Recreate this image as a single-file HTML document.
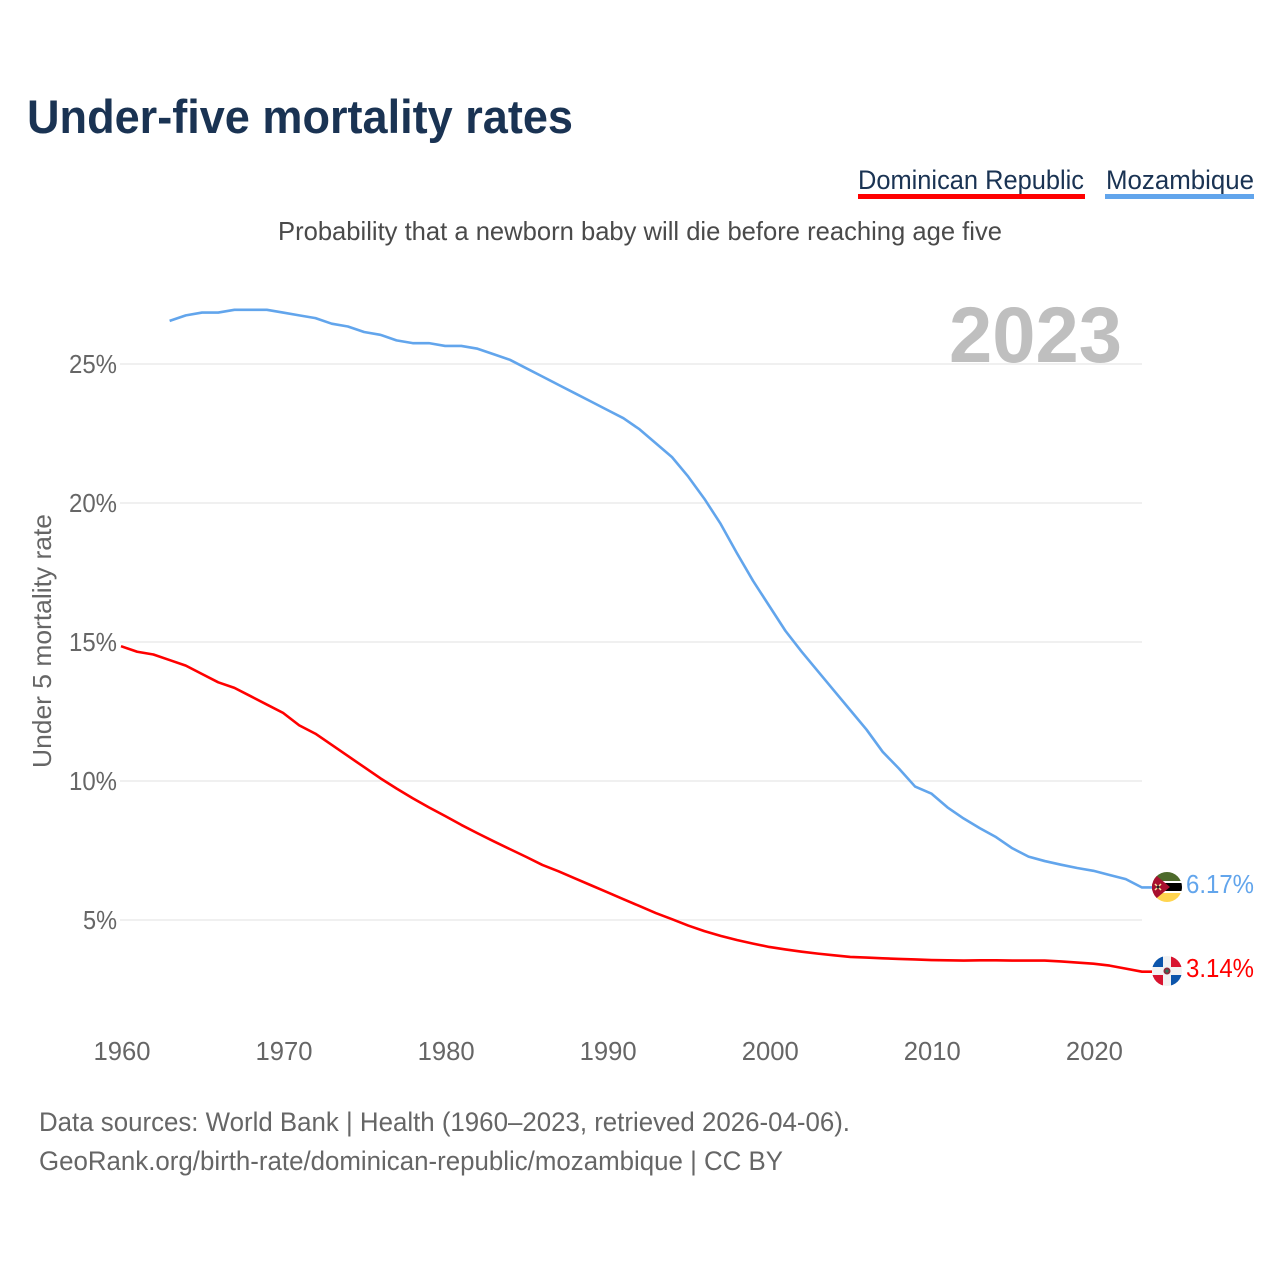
<!DOCTYPE html>
<html lang="en">
<head>
<meta charset="utf-8">
<title>Under-five mortality rates</title>
<style>
html,body{margin:0;padding:0;background:#fff;}
svg{display:block;font-family:"Liberation Sans",sans-serif;}
</style>
</head>
<body>
<svg id="chart" xmlns="http://www.w3.org/2000/svg" width="1280" height="1280" viewBox="0 0 1280 1280">
  <defs>
    <clipPath id="moz-clip"><circle cx="1167" cy="887" r="15"/></clipPath>
    <clipPath id="dom-clip"><circle cx="1167" cy="971" r="15"/></clipPath>
  </defs>
  <rect width="1280" height="1280" fill="#fff"/>
  <text x="27" y="133" font-size="47" font-weight="700" fill="#1a3353" textLength="546" lengthAdjust="spacingAndGlyphs">Under-five mortality rates</text>
  <g>
    <text x="858" y="189" font-size="27" fill="#1a3353" textLength="226" lengthAdjust="spacingAndGlyphs">Dominican Republic</text>
    <rect x="858" y="194" width="227" height="5" fill="#ff0000"/>
  </g>
  <g>
    <text x="1106" y="189" font-size="27" fill="#1a3353" textLength="148" lengthAdjust="spacingAndGlyphs">Mozambique</text>
    <rect x="1105" y="194" width="149" height="5" fill="#62a5ec"/>
  </g>
  <text x="278" y="240" font-size="26" fill="#4a4a4a" textLength="724" lengthAdjust="spacingAndGlyphs">Probability that a newborn baby will die before reaching age five</text>
  <text transform="translate(51,768) rotate(-90)" font-size="26" fill="#666" textLength="254" lengthAdjust="spacingAndGlyphs">Under 5 mortality rate</text>
  <g id="y-axis"></g>
  <g id="x-axis"></g>
  <text x="949" y="362" font-size="79" font-weight="700" fill="#bfbfbf" textLength="173" lengthAdjust="spacingAndGlyphs">2023</text>
  <g id="series"></g>
  <g clip-path="url(#moz-clip)">
    <rect x="1152" y="872" width="30" height="30" fill="#fff"/>
    <rect x="1152" y="872" width="30" height="9" fill="#4d6a2b"/>
    <rect x="1152" y="883" width="30" height="8" fill="#000"/>
    <rect x="1152" y="893" width="30" height="9" fill="#ffd54f"/>
    <polygon points="1152,872 1170,887 1152,902" fill="#a8102f"/>
    <path d="M1155 884l6 6M1161 884l-6 6" stroke="#f5e6a0" stroke-width="1.5"/>
    <circle cx="1158" cy="887" r="1.5" fill="#222"/>
  </g>
  <g clip-path="url(#dom-clip)">
    <rect x="1152" y="956" width="30" height="30" fill="#f2f2f2"/>
    <rect x="1152" y="956" width="11" height="11" fill="#0c55ab"/>
    <rect x="1171" y="956" width="11" height="11" fill="#d8142f"/>
    <rect x="1152" y="975" width="11" height="11" fill="#d8142f"/>
    <rect x="1171" y="975" width="11" height="11" fill="#0c55ab"/>
    <circle cx="1167" cy="971" r="3.5" fill="#8c2a3a"/>
    <circle cx="1167" cy="971" r="1.6" fill="#2a7a5a"/>
  </g>
  <text x="1186" y="893" font-size="26" fill="#62a5ec" textLength="68" lengthAdjust="spacingAndGlyphs">6.17%</text>
  <text x="1186" y="977" font-size="26" fill="#ff0000" textLength="68" lengthAdjust="spacingAndGlyphs">3.14%</text>
  <text x="39" y="1131" font-size="27" fill="#666" textLength="811" lengthAdjust="spacingAndGlyphs">Data sources: World Bank | Health (1960–2023, retrieved 2026-04-06).</text>
  <text x="39" y="1170" font-size="27" fill="#666" textLength="744" lengthAdjust="spacingAndGlyphs">GeoRank.org/birth-rate/dominican-republic/mozambique | CC BY</text>
</svg>
<script>
var domStartYear = 1960;
var mozStartYear = 1963;
var xTickYears = [1960, 1970, 1980, 1990, 2000, 2010, 2020];
var yTickValues = [5, 10, 15, 20, 25];
var dominicanValues = [14.85, 14.65, 14.55, 14.35, 14.15, 13.85, 13.55, 13.35, 13.05, 12.75,
  12.45, 12.0, 11.7, 11.3, 10.9, 10.5, 10.1, 9.73, 9.38, 9.05,
  8.74, 8.42, 8.12, 7.83, 7.55, 7.27, 6.98, 6.75, 6.5, 6.25,
  6.0, 5.75, 5.5, 5.25, 5.03, 4.8, 4.6, 4.43, 4.28, 4.15,
  4.03, 3.94, 3.86, 3.79, 3.73, 3.67, 3.65, 3.62, 3.6, 3.58,
  3.56, 3.55, 3.54, 3.55, 3.55, 3.54, 3.54, 3.54, 3.51, 3.47,
  3.43, 3.36, 3.25, 3.14];
var mozambiqueValues = [26.55, 26.75, 26.85, 26.85, 26.95, 26.95, 26.95, 26.85, 26.75, 26.65,
  26.45, 26.35, 26.15, 26.05, 25.85, 25.75, 25.75, 25.65, 25.65, 25.55,
  25.35, 25.15, 24.85, 24.55, 24.25, 23.95, 23.65, 23.35, 23.05, 22.65,
  22.15, 21.65, 20.95, 20.15, 19.25, 18.2, 17.2, 16.3, 15.4, 14.65,
  13.95, 13.25, 12.55, 11.85, 11.05, 10.45, 9.8, 9.55, 9.05, 8.65,
  8.3, 7.98, 7.58, 7.28, 7.12, 6.99, 6.87, 6.77, 6.62, 6.47, 6.17];

var NS = 'http://www.w3.org/2000/svg';
function xScale(year) { return 121 + (year - 1960) * 16.206; }
function yScale(v) { return 920 - (v - 5) * 27.8; }
function make(tag, attrs, parent) {
  var el = document.createElementNS(NS, tag);
  for (var k in attrs) { el.setAttribute(k, attrs[k]); }
  parent.appendChild(el);
  return el;
}
var yAxis = document.getElementById('y-axis');
yTickValues.forEach(function (v) {
  var line = make('line', { x1: 120, x2: 1142, y1: yScale(v), y2: yScale(v), stroke: '#ececec', 'stroke-width': 1.5 }, yAxis);
  
  
  var label = v + '%';
  var t = make('text', { x: 117, y: yScale(v) + 9, 'text-anchor': 'end', 'font-size': 26, fill: '#666', textLength: (label.length - 1) * 14 + 20, lengthAdjust: 'spacingAndGlyphs' }, yAxis);
  
  
  t.textContent = label;
});
var xAxis = document.getElementById('x-axis');
xTickYears.forEach(function (yr) {
  var t = make('text', { x: xScale(yr) + 1, y: 1060, 'text-anchor': 'middle', 'font-size': 26, fill: '#666', textLength: 57, lengthAdjust: 'spacingAndGlyphs' }, xAxis);
  
  
  t.textContent = String(yr);
});
function linePath(values, startYear) {
  return values.map(function (v, i) {
    return (i ? 'L' : 'M') + xScale(startYear + i).toFixed(2) + ' ' + yScale(v).toFixed(2);
  }).join(' ');
}
var seriesGroup = document.getElementById('series');
var domLine = make('path', { d: linePath(dominicanValues, domStartYear) + ' H1152', fill: 'none', stroke: '#ff0000', 'stroke-width': 2.6, 'stroke-linejoin': 'round' }, seriesGroup);


var mozLine = make('path', { d: linePath(mozambiqueValues, mozStartYear) + ' H1152', fill: 'none', stroke: '#62a5ec', 'stroke-width': 2.6, 'stroke-linejoin': 'round' }, seriesGroup);


</script>
</body>
</html>
